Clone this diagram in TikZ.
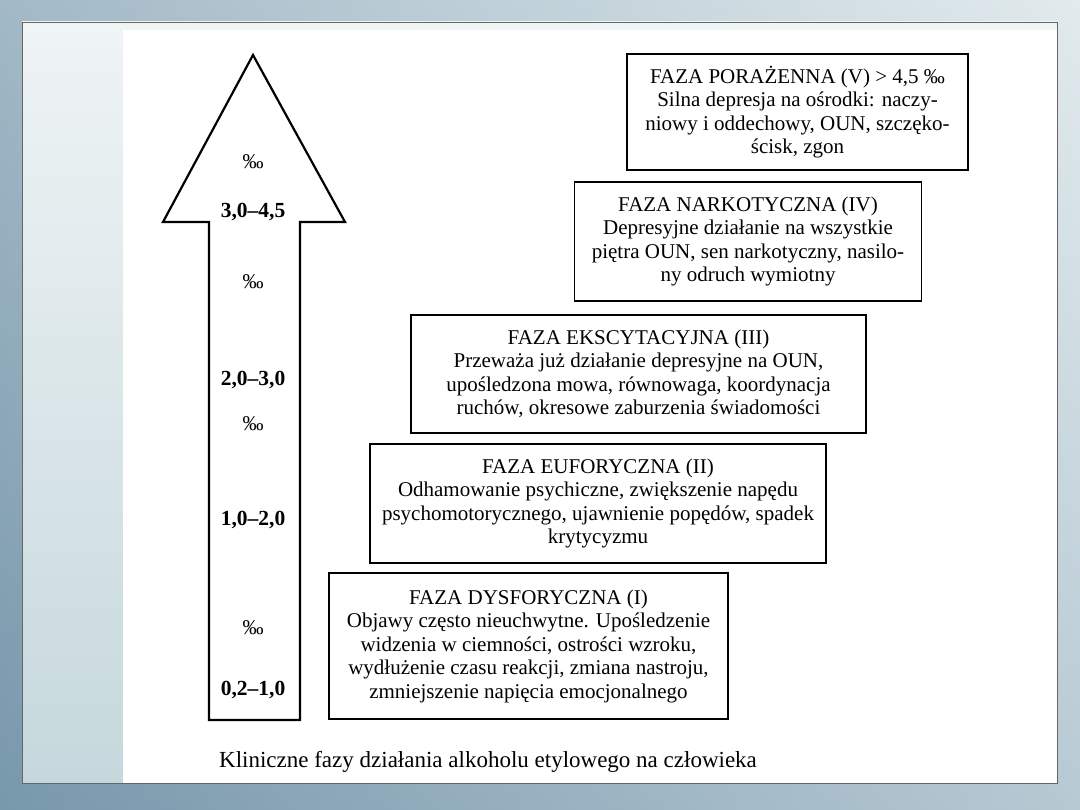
\documentclass[tikz,border=0pt]{standalone}
\usepackage{fontspec}
\setmainfont{Liberation Serif}
\usepackage{xcolor}
\usetikzlibrary{positioning,calc}

\definecolor{tloCiemne}{HTML}{7898AC}
\definecolor{tloJasne}{HTML}{E2EBEE}
\definecolor{panelGora}{HTML}{EFF4F5}
\definecolor{panelDol}{HTML}{C6D8DD}

\begin{document}
\begin{tikzpicture}[x=1pt, y=-1pt,
    faza/.style={rectangle, draw=black, line width=1.8pt, fill=white, align=center, inner sep=0pt, font=\fontsize{21}{23.5}\selectfont},
    promil/.style={font=\fontsize{21}{22}\selectfont},
    zakres/.style={font=\fontsize{21.5}{22}\selectfont\bfseries},
    strzalka/.style={draw=black, line width=2.2pt, line join=miter, fill=white}
]
    % tlo slajdu
    \useasboundingbox (0,0) rectangle (1080,810);
    \shade [top color=tloJasne, bottom color=tloCiemne] (0,0) rectangle (1080,810);
    \shade [left color=tloCiemne, right color=tloJasne, opacity=0.6] (0,0) rectangle (1080,810);
    \shade [top color=panelGora, bottom color=panelDol, draw=gray!80!black, line width=0.8pt] (22,22) rectangle (1057,783);
    \fill [white] (123,30) rectangle (1057,783);

    % strzalka stezen
    \draw [strzalka] (253,55) -- (345,222) -- (300,222) -- (300,720) -- (209,720) -- (209,222) -- (163,222) -- cycle;
    \node [promil] (p5) at (253,162) {‰};
    \node [zakres] (z4) at (253,212) {3,0–4,5};
    \node [promil] (p4) at (253,282) {‰};
    \node [zakres] (z3) at (253,380) {2,0–3,0};
    \node [promil] (p3) at (253,424) {‰};
    \node [zakres] (z2) at (253,520) {1,0–2,0};
    \node [promil] (p2) at (253,628) {‰};
    \node [zakres] (z1) at (253,690) {0,2–1,0};

    % fazy
    \node [faza, minimum width=341pt, minimum height=116pt] (f5) at (797.5,112) {FAZA PORAŻENNA (V) > 4,5 ‰\\Silna depresja na ośrodki: naczy-\\niowy i oddechowy, OUN, szczęko-\\ścisk, zgon};
    \node [faza, minimum width=347pt, minimum height=119pt] (f4) at (748,241.5) {FAZA NARKOTYCZNA (IV)\\Depresyjne działanie na wszystkie\\piętra OUN, sen narkotyczny, nasilo-\\ny odruch wymiotny};
    \node [faza, minimum width=455pt, minimum height=118pt] (f3) at (638.5,374) {FAZA EKSCYTACYJNA (III)\\Przeważa już działanie depresyjne na OUN,\\upośledzona mowa, równowaga, koordynacja\\ruchów, okresowe zaburzenia świadomości};
    \node [faza, minimum width=456pt, minimum height=119pt] (f2) at (598,503.5) {FAZA EUFORYCZNA (II)\\Odhamowanie psychiczne, zwiększenie napędu\\psychomotorycznego, ujawnienie popędów, spadek\\krytycyzmu};
    \node [faza, minimum width=399pt, minimum height=146pt] (f1) at (528.5,646) {FAZA DYSFORYCZNA (I)\\Objawy często nieuchwytne. Upośledzenie\\widzenia w ciemności, ostrości wzroku,\\wydłużenie czasu reakcji, zmiana nastroju,\\zmniejszenie napięcia emocjonalnego};

    % podpis
    \node [font=\fontsize{23}{25}\selectfont] (podpis) at (488,762) {Kliniczne fazy działania alkoholu etylowego na człowieka};
\end{tikzpicture}
\end{document}
